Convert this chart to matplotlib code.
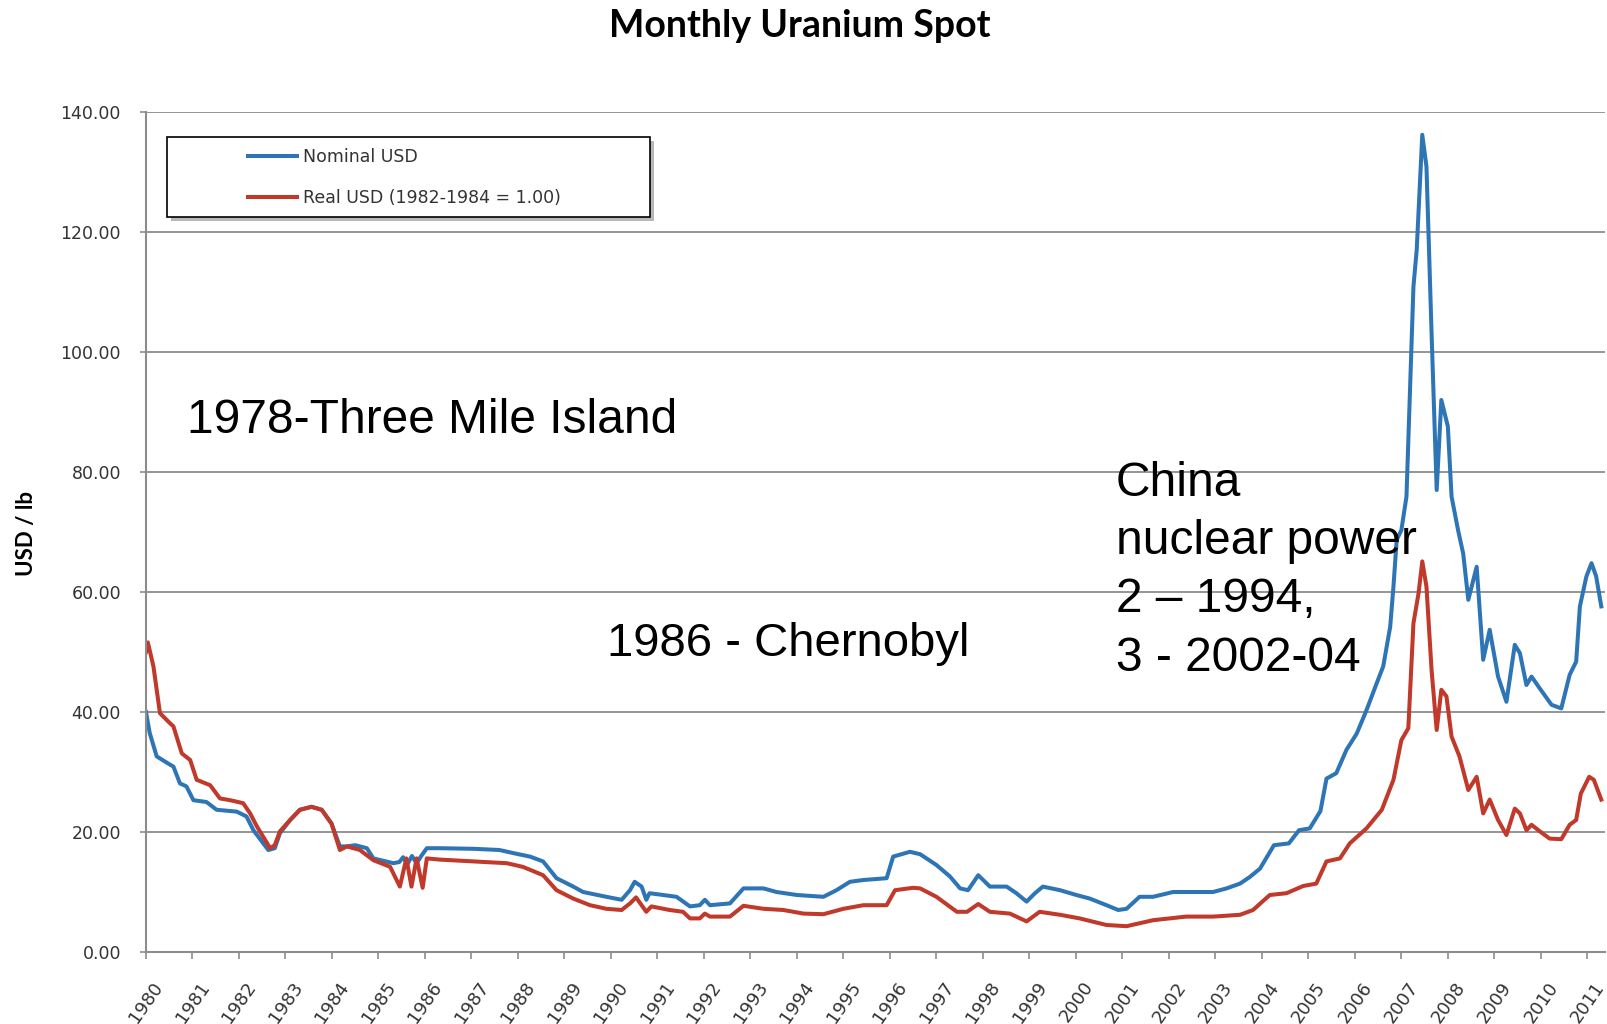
import matplotlib
matplotlib.use('Agg')
import matplotlib.pyplot as plt
import matplotlib.transforms as mtransforms
from matplotlib.patches import Rectangle

# monthly spot price (year, USD/lb)
nominal_year = [1980.00, 1980.08, 1980.23, 1980.48, 1980.59, 1980.73, 1980.87, 1981.02, 1981.30, 1981.52,
                1981.95, 1982.16, 1982.31, 1982.63, 1982.77, 1982.88, 1983.10, 1983.31, 1983.56, 1983.78,
                1983.99, 1984.17, 1984.32, 1984.50, 1984.75, 1984.89, 1985.32, 1985.45, 1985.53, 1985.62,
                1985.72, 1985.82, 1985.92, 1986.04, 1986.32, 1987.04, 1987.60, 1987.95, 1988.26, 1988.54,
                1988.83, 1989.19, 1989.40, 1989.90, 1990.23, 1990.41, 1990.51, 1990.66, 1990.76, 1990.83,
                1991.12, 1991.41, 1991.70, 1991.91, 1992.02, 1992.13, 1992.56, 1992.85, 1993.28, 1993.56,
                1994.00, 1994.57, 1994.85, 1995.14, 1995.43, 1995.93, 1996.07, 1996.43, 1996.65, 1997.00,
                1997.29, 1997.51, 1997.68, 1997.90, 1998.15, 1998.51, 1998.72, 1998.94, 1999.12, 1999.29,
                1999.66, 2000.01, 2000.30, 2000.66, 2000.91, 2001.09, 2001.37, 2001.66, 2002.09, 2002.95,
                2003.24, 2003.53, 2003.74, 2003.96, 2004.26, 2004.58, 2004.80, 2005.03, 2005.26, 2005.39,
                2005.60, 2005.82, 2006.04, 2006.25, 2006.47, 2006.61, 2006.76, 2006.83, 2006.90, 2007.00,
                2007.11, 2007.26, 2007.33, 2007.45, 2007.54, 2007.65, 2007.76, 2007.86, 2008.00, 2008.08,
                2008.22, 2008.33, 2008.44, 2008.62, 2008.76, 2008.90, 2009.08, 2009.26, 2009.44, 2009.55,
                2009.69, 2009.80, 2009.98, 2010.23, 2010.44, 2010.62, 2010.76, 2010.84, 2010.98, 2011.09,
                2011.19, 2011.30]
nominal_usd = [40.0, 36.5, 32.6, 31.4, 30.9, 28.1, 27.6, 25.3, 25.0, 23.7,
               23.4, 22.6, 20.3, 17.0, 17.3, 19.8, 22.0, 23.7, 24.2, 23.7,
               21.4, 17.6, 17.6, 17.8, 17.3, 15.6, 14.8, 15.0, 15.8, 14.6,
               16.0, 14.8, 16.0, 17.3, 17.3, 17.2, 17.0, 16.4, 15.9, 15.1,
               12.3, 10.9, 10.0, 9.2, 8.7, 10.3, 11.7, 10.9, 8.7, 9.8,
               9.5, 9.2, 7.6, 7.8, 8.7, 7.8, 8.1, 10.6, 10.6, 10.0,
               9.5, 9.2, 10.3, 11.7, 12.0, 12.3, 15.9, 16.7, 16.3, 14.5,
               12.6, 10.6, 10.3, 12.8, 10.9, 10.9, 9.8, 8.4, 9.8, 10.9,
               10.3, 9.5, 8.9, 7.8, 7.0, 7.2, 9.2, 9.2, 10.0, 10.0,
               10.6, 11.4, 12.5, 13.9, 17.8, 18.1, 20.3, 20.6, 23.5, 28.9,
               29.8, 33.7, 36.4, 40.3, 44.8, 47.6, 54.2, 60.9, 68.7, 70.3,
               75.9, 110.9, 117.0, 136.2, 130.9, 103.1, 77.0, 92.0, 87.6, 75.9,
               70.3, 66.4, 58.7, 64.2, 48.7, 53.7, 45.9, 41.7, 51.2, 49.8,
               44.5, 45.9, 43.9, 41.2, 40.6, 46.2, 48.4, 57.6, 62.6, 64.8,
               62.6, 57.6]

real_year = [1980.00, 1980.04, 1980.16, 1980.30, 1980.52, 1980.59, 1980.77, 1980.95, 1981.09, 1981.38,
             1981.59, 1981.81, 1982.09, 1982.24, 1982.38, 1982.67, 1982.77, 1982.88, 1983.10, 1983.31,
             1983.56, 1983.78, 1983.99, 1984.17, 1984.32, 1984.60, 1984.89, 1985.25, 1985.46, 1985.60,
             1985.71, 1985.82, 1985.95, 1986.04, 1986.32, 1987.04, 1987.76, 1988.10, 1988.26, 1988.54,
             1988.83, 1989.19, 1989.55, 1989.90, 1990.23, 1990.41, 1990.54, 1990.76, 1990.87, 1991.26,
             1991.55, 1991.70, 1991.91, 1992.02, 1992.13, 1992.56, 1992.85, 1993.28, 1993.71, 1994.14,
             1994.57, 1995.00, 1995.43, 1995.93, 1996.11, 1996.50, 1996.65, 1997.00, 1997.44, 1997.66,
             1997.90, 1998.15, 1998.58, 1998.94, 1999.22, 1999.66, 2000.08, 2000.66, 2001.09, 2001.66,
             2002.37, 2002.95, 2003.53, 2003.81, 2004.17, 2004.53, 2004.89, 2005.17, 2005.39, 2005.68,
             2005.89, 2006.25, 2006.58, 2006.83, 2007.00, 2007.15, 2007.26, 2007.37, 2007.45, 2007.54,
             2007.65, 2007.76, 2007.86, 2007.97, 2008.08, 2008.25, 2008.44, 2008.62, 2008.76, 2008.90,
             2009.08, 2009.26, 2009.44, 2009.55, 2009.69, 2009.80, 2009.98, 2010.19, 2010.44, 2010.62,
             2010.76, 2010.86, 2011.04, 2011.14, 2011.30]
real_usd = [50.0, 51.6, 47.6, 39.8, 38.1, 37.6, 33.1, 32.0, 28.7, 27.8,
            25.6, 25.3, 24.8, 23.1, 21.0, 17.3, 17.8, 20.1, 22.0, 23.7,
            24.2, 23.7, 21.4, 17.0, 17.6, 17.0, 15.3, 14.2, 10.9, 15.6,
            10.9, 15.6, 10.7, 15.6, 15.4, 15.1, 14.8, 14.2, 13.7, 12.8,
            10.3, 8.9, 7.8, 7.2, 7.0, 8.1, 9.1, 6.7, 7.6, 7.0,
            6.7, 5.6, 5.6, 6.4, 5.9, 5.9, 7.7, 7.2, 7.0, 6.4,
            6.3, 7.2, 7.8, 7.8, 10.3, 10.7, 10.6, 9.2, 6.7, 6.7,
            8.0, 6.7, 6.4, 5.1, 6.7, 6.2, 5.6, 4.5, 4.3, 5.3,
            5.9, 5.9, 6.2, 7.0, 9.5, 9.8, 11.0, 11.4, 15.1, 15.6,
            18.1, 20.6, 23.7, 28.7, 35.3, 37.3, 54.8, 59.8, 65.1, 60.9,
            47.0, 37.0, 43.7, 42.6, 35.9, 32.6, 27.0, 29.2, 23.1, 25.4,
            22.0, 19.5, 23.9, 23.1, 20.3, 21.2, 20.1, 18.9, 18.8, 21.2,
            22.0, 26.4, 29.2, 28.7, 25.4]

year_ticks = list(range(1980, 2012))
usd_ticks = [0, 20, 40, 60, 80, 100, 120, 140]
series_labels = ['Nominal USD', 'Real USD (1982-1984 = 1.00)']

note_tmi = '1978-Three Mile Island'
note_chernobyl = '1986 - Chernobyl'
note_china = 'China\nnuclear power\n2 \u2013 1994,\n3 - 2002-04'

if __name__ == '__main__':
    W, H = 1608, 1024
    fig = plt.figure(figsize=(W / 100, H / 100), dpi=100)
    fig.patch.set_facecolor('white')

    # plot area in pixels: x 146..1605, y 112..952
    ax = fig.add_axes([146 / W, 1 - 952 / H, (1605 - 146) / W, (952 - 112) / H])

    blue = '#2e75b6'
    red = '#c0392b'
    grid_c = '#8c8c8c'

    l1, = ax.plot(nominal_year, nominal_usd, color=blue, lw=2.9, solid_joinstyle='round')
    l2, = ax.plot(real_year, real_usd, color=red, lw=2.9, solid_joinstyle='round')

    ax.set_xlim(1980, 2011.38)
    ax.set_ylim(0, 140)

    ax.set_yticks(usd_ticks)
    ax.set_yticklabels([f'{v:.2f}' for v in usd_ticks])
    ax.yaxis.grid(True, color=grid_c, lw=1.3)
    ax.set_axisbelow(True)

    for s in ['top', 'right']:
        ax.spines[s].set_visible(False)
    for s in ['left', 'bottom']:
        ax.spines[s].set_color(grid_c)
        ax.spines[s].set_linewidth(1.5)

    ax.tick_params(axis='y', length=4, width=1.2, color=grid_c, pad=14,
                   labelsize=12.5, labelcolor='#333333')
    ax.set_xticks(year_ticks)
    ax.set_xticklabels([str(y) for y in year_ticks], rotation=55, ha='right', va='top',
                       rotation_mode='anchor')
    ax.tick_params(axis='x', length=5, width=1.2, color=grid_c, pad=14,
                   labelsize=13, labelcolor='#333333')
    offset = mtransforms.ScaledTranslation(6 / 100, 0, fig.dpi_scale_trans)
    for lbl in ax.get_xticklabels():
        lbl.set_transform(lbl.get_transform() + offset)

    # title and y label
    fig.text(800 / W, 1 - 26 / H, 'Monthly Uranium Spot', ha='center', va='center',
             fontsize=27, fontweight='bold', family='Lato')
    fig.text(27 / W, 1 - 533 / H, 'USD / lb', rotation=90, ha='center', va='center',
             fontsize=16, fontweight='bold', family='Lato')

    # legend box with shadow
    bx, by, bw, bh = 167, 137, 483, 80
    shadow = Rectangle(((bx + 4) / W, 1 - (by + bh + 4) / H), bw / W, bh / H,
                       transform=fig.transFigure, facecolor='#9a9a9a', edgecolor='none',
                       alpha=0.7, zorder=4)
    box = Rectangle((bx / W, 1 - (by + bh) / H), bw / W, bh / H,
                    transform=fig.transFigure, facecolor='white', edgecolor='black',
                    lw=1.2, zorder=5)
    fig.add_artist(shadow)
    fig.add_artist(box)
    leg = fig.legend([l1, l2], series_labels, loc='center left',
                     bbox_to_anchor=(248 / W, 1 - 177.5 / H), frameon=False,
                     fontsize=12.5, handlelength=2.8, handletextpad=0.35,
                     labelspacing=1.3, borderpad=0, borderaxespad=0)
    leg.set_zorder(6)
    for t in leg.get_texts():
        t.set_color('#333333')

    # annotations
    txt = dict(fontsize=34.5, family='Liberation Sans', color='black')
    ax.text(1980.89, 86.5, note_tmi, va='baseline', ha='left', **txt)
    ax.text(1989.92, 49.3, note_chernobyl, va='baseline', ha='left', fontsize=34,
            family='Liberation Sans', color='black')
    # multi-line text: baseline refers to the last line here
    ax.text(2000.86, 46.9, note_china, va='baseline', ha='left', linespacing=1.38, **txt)

    fig.savefig('out.png', dpi=100, facecolor='white')
